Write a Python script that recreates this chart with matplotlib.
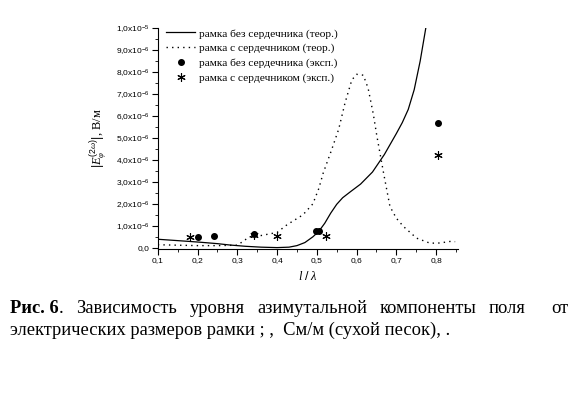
import matplotlib
matplotlib.use("Agg")
import matplotlib.pyplot as plt
from matplotlib.ticker import MultipleLocator, FuncFormatter
from matplotlib.lines import Line2D
import numpy as np

# theory: frame without core (solid)
solid_x = [0.10, 0.14, 0.18, 0.21, 0.25, 0.28, 0.32, 0.36, 0.40, 0.43, 0.45, 0.47, 0.49,
           0.505, 0.52, 0.535, 0.55, 0.565, 0.585, 0.61, 0.64, 0.67, 0.70, 0.715, 0.73,
           0.745, 0.76, 0.776]
solid_y = [0.39, 0.34, 0.29, 0.25, 0.19, 0.13, 0.07, 0.03, 0.01, 0.03, 0.10, 0.24, 0.50,
           0.75, 1.12, 1.58, 1.98, 2.28, 2.56, 2.90, 3.45, 4.25, 5.20, 5.70, 6.30,
           7.20, 8.50, 10.2]

# theory: frame with core (dotted)
dot_x = [0.10, 0.15, 0.20, 0.25, 0.30, 0.315, 0.33, 0.36, 0.40, 0.425, 0.465, 0.49, 0.505,
         0.516, 0.537, 0.555, 0.571, 0.588, 0.60, 0.617, 0.629, 0.642, 0.651, 0.668, 0.684,
         0.70, 0.718, 0.751, 0.785, 0.81, 0.835, 0.848]
dot_y = [0.14, 0.12, 0.10, 0.10, 0.12, 0.30, 0.50, 0.56, 0.70, 1.05, 1.50, 2.00, 2.70,
         3.40, 4.45, 5.40, 6.60, 7.64, 7.90, 7.86, 7.27, 6.10, 5.10, 3.40, 1.88,
         1.35, 0.97, 0.44, 0.21, 0.22, 0.29, 0.28]

# experiment
circ_x = [0.20, 0.242, 0.341, 0.498, 0.505, 0.805]
circ_y = [0.49, 0.52, 0.64, 0.77, 0.76, 5.67]
star_x = [0.182, 0.341, 0.40, 0.523, 0.805]
star_y = [0.47, 0.60, 0.52, 0.55, 4.23]

labels = ["рамка без сердечника (теор.)", "рамка с сердечником (теор.)",
          "рамка без сердечника (эксп.)", "рамка с сердечником (эксп.)"]

xticks = [0.1, 0.2, 0.3, 0.4, 0.5, 0.6, 0.7, 0.8]

plt.rcParams["font.family"] = ["Liberation Sans", "DejaVu Sans"]
plt.rcParams["mathtext.fontset"] = "custom"
plt.rcParams["mathtext.rm"] = "Liberation Sans"
plt.rcParams["mathtext.it"] = "Liberation Serif:italic"

fig = plt.figure(figsize=(5.76, 3.97), dpi=100)
ax = fig.add_axes([0.274, 0.373, 0.521, 0.556])

scale = 1e-6
ax.plot(solid_x, np.array(solid_y) * scale, color="black", lw=0.9)
ax.plot(dot_x, np.array(dot_y) * scale, color="black", lw=1.0, ls=(0, (1, 3)))
ax.plot(circ_x, np.array(circ_y) * scale, "o", color="black", ms=4, ls="none")
ax.plot(star_x, np.array(star_y) * scale, marker=(6, 2, 0), color="black", ms=6, mew=0.8, ls="none")

ax.set_xlim(0.1, 0.855)
ax.set_ylim(-0.05e-6, 1.0e-5)
for s in ["top", "right"]:
    ax.spines[s].set_visible(False)
ax.spines["left"].set_linewidth(0.8)
ax.spines["bottom"].set_linewidth(0.8)

ax.set_xticks(xticks)
ax.xaxis.set_minor_locator(MultipleLocator(0.05))
ax.yaxis.set_major_locator(MultipleLocator(1e-6))
ax.yaxis.set_minor_locator(MultipleLocator(0.5e-6))


def xfmt(v, pos):
    return f"{v:.1f}".replace(".", ",")


def yfmt(v, pos):
    if abs(v) < 1e-12:
        return "0,0"
    if v > 0.95e-5:
        return "1,0x10$^{-5}$"
    return f"{v / 1e-6:.1f}".replace(".", ",") + "x10$^{-6}$"


ax.xaxis.set_major_formatter(FuncFormatter(xfmt))
ax.yaxis.set_major_formatter(FuncFormatter(yfmt))
ax.tick_params(which="major", length=4, width=0.8, labelsize=6, pad=2)
ax.tick_params(which="minor", length=2, width=0.6)

ax.set_xlabel(r"$l\ /\ \lambda$", fontsize=9, labelpad=4)
ax.set_ylabel(r"$|E_{\varphi}^{(2\omega)}|$, В/м", fontsize=9, labelpad=4,
              family=["Liberation Serif", "DejaVu Serif"])

handles = [
    Line2D([], [], color="black", lw=0.9),
    Line2D([], [], color="black", lw=1.0, ls=(0, (1, 3))),
    Line2D([], [], marker="o", color="black", ms=4, ls="none"),
    Line2D([], [], marker=(6, 2, 0), color="black", ms=6, mew=0.8, ls="none"),
]
ax.legend(handles, labels, loc="upper left", bbox_to_anchor=(0.0, 1.035), frameon=False,
          prop={"family": "Liberation Serif", "size": 8.2}, handlelength=2.6,
          handletextpad=0.3, labelspacing=0.4, borderaxespad=0.3)

# caption, first line justified between left and right margins
cap = dict(family="Liberation Serif", fontsize=13.3, va="baseline")
y1 = 1 - 313 / 397
y2 = 1 - 335 / 397
left, right = 10, 568
pieces = [("Рис. 6", "bold"), (".", "normal"), ("Зависимость", "normal"), ("уровня", "normal"),
          ("азимутальной", "normal"), ("компоненты", "normal"), ("поля", "normal"),
          ("от", "normal")]
renderer = fig.canvas.get_renderer()
texts = []
widths = []
for w, fw in pieces:
    t = fig.text(0, y1, w, fontweight=fw, **cap)
    widths.append(t.get_window_extent(renderer).width)
    texts.append(t)
# "." sticks to "Рис. 6"; extra gap before "от"
gaps = [0, 1, 1, 1, 1, 1, 2.0]
free = (right - left) - sum(widths)
unit = free / sum(gaps)
x = left
for i, t in enumerate(texts):
    t.set_x(x / 576)
    x += widths[i] + (unit * gaps[i] if i < len(gaps) else 0)
fig.text(left / 576, y2, "электрических размеров рамки ; ,  См/м (сухой песок), .", **cap)

fig.savefig("out.png", dpi=100)
